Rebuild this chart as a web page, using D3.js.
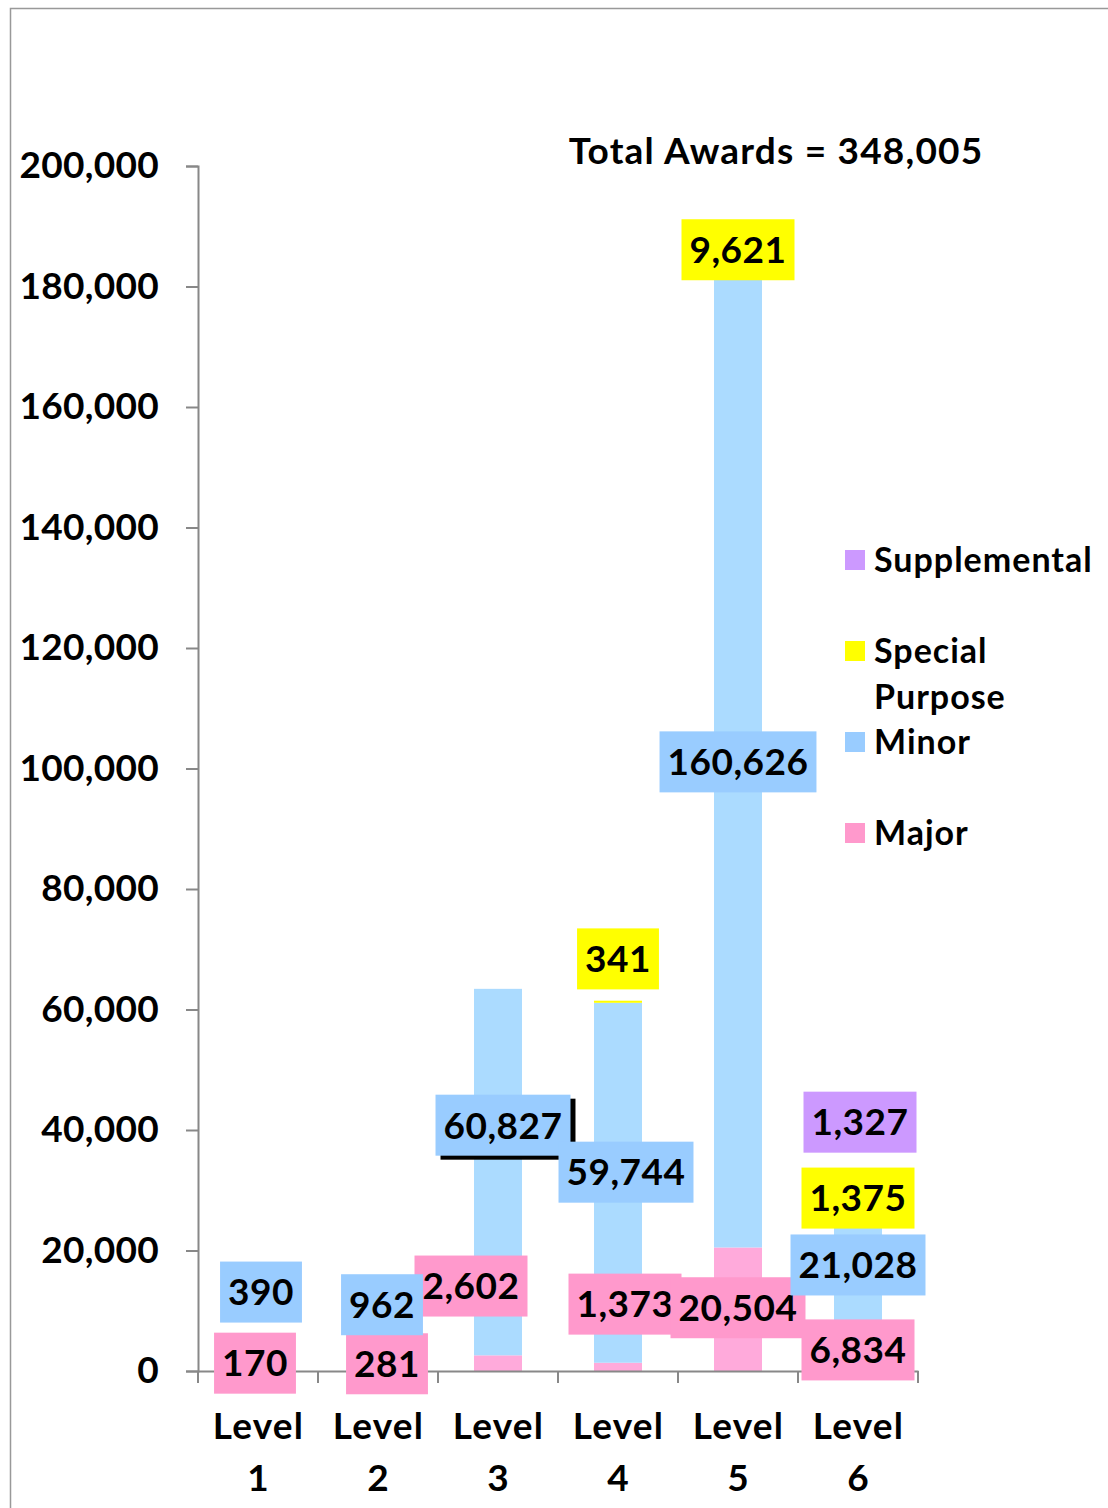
<!DOCTYPE html>
<html>
<head>
<meta charset="utf-8">
<script src="https://cdn.jsdelivr.net/npm/d3@7"></script>
<style>
  html, body { margin: 0; padding: 0; background: #fff; }
  svg { display: block; }
  text { font-family: Lato, "Open Sans", sans-serif; font-weight: bold; fill: #000; }
</style>
</head>
<body>
<script>
// ---- data ----
const levels = ["Level 1", "Level 2", "Level 3", "Level 4", "Level 5", "Level 6"];
const seriesNames = ["Major", "Minor", "Special Purpose", "Supplemental"];
const major = [170, 281, 2602, 1373, 20504, 6834];
const minor = [390, 962, 60827, 59744, 160626, 21028];
const special = [0, 0, 0, 341, 9621, 1375];
const supplemental = [0, 0, 0, 0, 0, 1327];
const yTicks = [0, 20000, 40000, 60000, 80000, 100000, 120000, 140000, 160000, 180000, 200000];
const totalAwards = 348005;

// ---- label layout (data-unit anchors for the manually placed labels) ----
const labelY = {
  "Major":           [1300, 1200, 14100, 11100, 10500, 3500],
  "Minor":           [13100, 11000, 40800, 33000, 101100, 17600],
  "Special Purpose": [null, null, null, 68400, 186100, 28700],
  "Supplemental":    [null, null, null, null, null, 41300]
};
const labelDx = {
  "Major":           [-3, 9, -27, 7, 0, 0],
  "Minor":           [3, 4, 5, 8, 0, 0],
  "Special Purpose": [0, 0, 0, 0, 0, 0],
  "Supplemental":    [0, 0, 0, 0, 0, 2]
};

const W = 1108, H = 1508;
const barColors = { "Major": "#ffaadb", "Minor": "#abdbff", "Special Purpose": "#ffff00", "Supplemental": "#cc99ff" };
const boxColors = { "Major": "#ff99cc", "Minor": "#99ccff", "Special Purpose": "#ffff00", "Supplemental": "#cc99ff" };
const fs = 37;

const svg = d3.select("body").append("svg").attr("width", W).attr("height", H);

// outer border
svg.append("path").attr("d", `M10.5,${H} L10.5,8.5 L${W},8.5`)
  .attr("fill", "none").attr("stroke", "#999").attr("stroke-width", 1.5);

const x = d3.scaleBand().domain(levels).range([198, 918]).paddingInner(0).paddingOuter(0);
const y = d3.scaleLinear().domain([0, 200000]).range([1371, 166]);

const table = levels.map((l, i) => ({
  level: l,
  "Major": major[i], "Minor": minor[i], "Special Purpose": special[i], "Supplemental": supplemental[i]
}));
const stacked = d3.stack().keys(seriesNames)(table);

const barW = x.bandwidth() * 0.4;
const gBars = svg.append("g");
stacked.forEach(s => {
  gBars.selectAll(null).data(s).enter().append("rect")
    .attr("x", d => x(d.data.level) + (x.bandwidth() - barW) / 2)
    .attr("width", barW)
    .attr("y", d => y(d[1]))
    .attr("height", d => Math.max(0, y(d[0]) - y(d[1])))
    .attr("fill", barColors[s.key]);
});

// y axis
const yAxis = d3.axisLeft(y).tickValues(yTicks).tickSize(12).tickPadding(27)
  .tickFormat(d3.format(","));
const gy = svg.append("g").attr("transform", "translate(198,0)").call(yAxis);
gy.select(".domain").attr("stroke", "#888").attr("stroke-width", 2);
gy.selectAll(".tick line").attr("stroke", "#888").attr("stroke-width", 2);
gy.selectAll(".tick text").attr("font-size", fs).attr("font-family", "Lato").attr("font-weight", "bold")
  .attr("fill", "#000").attr("letter-spacing", "0.3px");

// x axis
const xAxis = d3.axisBottom(x).tickSize(0).tickFormat("");
const gx = svg.append("g").attr("transform", "translate(0,1371)").call(xAxis);
gx.select(".domain").attr("stroke", "#888").attr("stroke-width", 2);
const edges = levels.map(l => x(l)).concat([x.range()[1]]);
gx.selectAll(".edge").data(edges).enter().append("line")
  .attr("x1", d => d).attr("x2", d => d).attr("y1", 0).attr("y2", 12)
  .attr("stroke", "#888").attr("stroke-width", 2);
levels.forEach(l => {
  const parts = l.split(" ");
  const cx = x(l) + x.bandwidth() / 2;
  const t = svg.append("text").attr("text-anchor", "middle").attr("font-size", fs);
  t.append("tspan").attr("x", cx + 0.5).attr("y", 1439).attr("letter-spacing", "1.2px").text(parts[0]);
  t.append("tspan").attr("x", cx).attr("y", 1491).text(parts[1]);
});

// title
svg.append("text").attr("x", 776).attr("y", 164).attr("text-anchor", "middle")
  .attr("font-size", fs).attr("letter-spacing", "1.2px")
  .text("Total Awards = " + d3.format(",")(totalAwards));

// data labels
const values = { "Major": major, "Minor": minor, "Special Purpose": special, "Supplemental": supplemental };
const gLab = svg.append("g");
const boxH = 61;
seriesNames.forEach(name => {
  values[name].forEach((v, i) => {
    if (!v) return;
    const cx = x(levels[i]) + x.bandwidth() / 2 + labelDx[name][i];
    const cy = y(labelY[name][i]);
    const g = gLab.append("g");
    const shadow = g.append("rect");
    const r = g.append("rect").attr("fill", boxColors[name]);
    const t = g.append("text").attr("x", cx).attr("y", cy).attr("dy", "0.36em")
      .attr("text-anchor", "middle").attr("font-size", fs).attr("letter-spacing", "0.5px")
      .text(d3.format(",")(v));
    const tw = t.node().getComputedTextLength();
    const bw = tw + 16;
    r.attr("x", cx - bw / 2).attr("y", cy - boxH / 2).attr("width", bw).attr("height", boxH);
    if (name === "Minor" && i === 2) {
      shadow.attr("x", cx - bw / 2 + 5).attr("y", cy - boxH / 2 + 4).attr("width", bw)
        .attr("height", boxH).attr("fill", "#000");
    } else {
      shadow.remove();
    }
  });
});

// legend
const legendItems = [
  { key: "Supplemental", lines: ["Supplemental"], y: 560 },
  { key: "Special Purpose", lines: ["Special", "Purpose"], y: 651 },
  { key: "Minor", lines: ["Minor"], y: 742 },
  { key: "Major", lines: ["Major"], y: 833 }
];
const gLeg = svg.append("g");
legendItems.forEach(it => {
  gLeg.append("rect").attr("x", 845).attr("y", it.y - 10).attr("width", 20).attr("height", 20)
    .attr("fill", boxColors[it.key]);
  it.lines.forEach((ln, k) => {
    gLeg.append("text").attr("x", 874).attr("y", it.y + k * 46).attr("dy", "0.36em")
      .attr("font-size", 34).attr("letter-spacing", "1px").text(ln);
  });
});
</script>
</body>
</html>
